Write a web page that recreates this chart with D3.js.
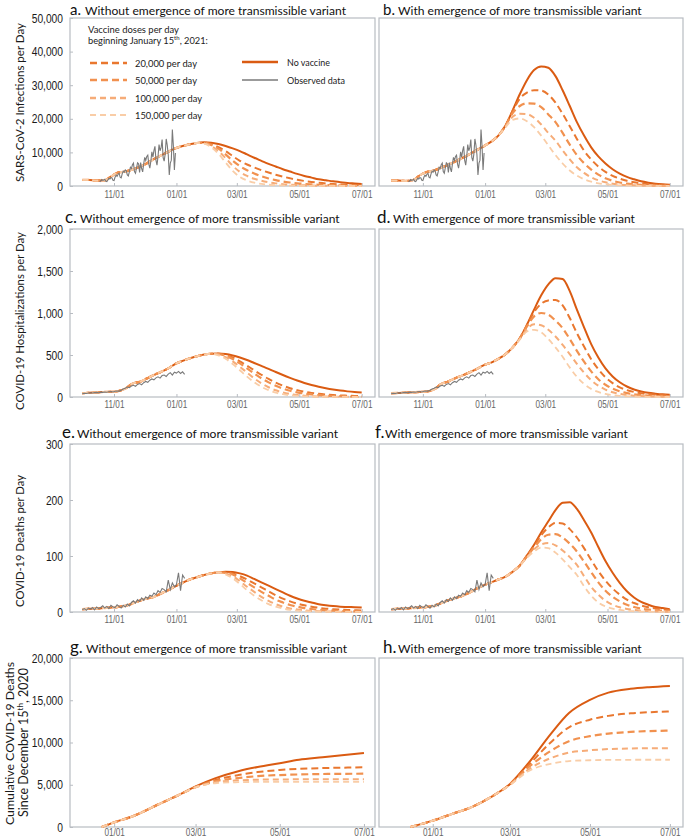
<!DOCTYPE html>
<html><head><meta charset="utf-8">
<script src="https://cdn.jsdelivr.net/npm/d3@7"></script>
<style>
body{margin:0;background:#fff}
svg{display:block}
text{font-family:Lato,"Open Sans",sans-serif}
.tick text{font-family:"Liberation Sans",Arial,sans-serif}
</style></head>
<body><svg id="chart" width="685" height="839"></svg>
<script>
// ---------------- DATA ----------------
const weekDates = ["2020-10-01","2020-10-08","2020-10-15","2020-10-22","2020-10-29","2020-11-05","2020-11-12","2020-11-19","2020-11-26","2020-12-03","2020-12-10","2020-12-17","2020-12-24","2020-12-31","2021-01-07","2021-01-14","2021-01-21","2021-01-28","2021-02-04","2021-02-11","2021-02-18","2021-02-25","2021-03-04","2021-03-11","2021-03-18","2021-03-25","2021-04-01","2021-04-08","2021-04-15","2021-04-22","2021-04-29","2021-05-06","2021-05-13","2021-05-20","2021-05-27","2021-06-03","2021-06-10","2021-06-17","2021-06-24","2021-07-01"];
const cumDatesG = ["2020-12-23","2021-01-01","2021-01-15","2021-02-01","2021-02-15","2021-03-01","2021-03-15","2021-04-01","2021-04-15","2021-05-01","2021-05-15","2021-06-01","2021-06-15","2021-07-01"];
const cumDatesH = ["2020-12-15","2021-01-01","2021-01-15","2021-02-01","2021-02-15","2021-03-01","2021-03-15","2021-04-01","2021-04-15","2021-05-01","2021-05-15","2021-06-01","2021-06-15","2021-07-01"];

const scenarios = ["No vaccine","20,000 per day","50,000 per day","100,000 per day","150,000 per day"];

// a. infections, without variant
const infA_none = [1800,1800,1600,1600,2800,4000,4300,4900,5700,6700,8000,9100,10200,11200,11900,12400,12800,13000,12900,12500,11900,11200,10400,9400,8400,7500,6600,5800,5000,4300,3600,3000,2500,2000,1700,1400,1150,900,750,600];
const infA_start = 17;
const infA_v20  = [12900,12500,11600,10400,8900,7500,6400,5500,4700,4000,3350,2800,2300,1850,1500,1200,950,750,600,480,390,320,260];
const infA_v50  = [12800,12200,11100,9400,7500,5900,4700,3700,2900,2250,1750,1350,1050,800,620,480,370,290,220,170,130,100,80];
const infA_v100 = [12700,11900,10400,8300,6000,4200,3000,2150,1550,1100,780,550,390,280,200,140,100,70,50,36,26,19,14];
const infA_v150 = [12600,11500,9600,7000,4500,2700,1650,1000,620,390,250,160,100,65,42,28,18,12,8,5,3,2,1];

// b. infections, with variant
const infB_none = [1600,1600,1500,1700,3200,4200,4600,5500,6300,7300,8400,9500,10700,11900,13200,15000,18000,22500,27300,31500,34500,35600,35200,32700,28500,23800,19000,15000,11500,8800,6700,5000,3700,2700,2000,1400,1000,700,500,350];
const infB_start = 16;
const infB_v20  = [18000,22300,26000,27800,28500,28400,27200,24800,21500,17800,14000,10500,7900,5800,4200,3000,2200,1550,1100,780,550,390,280,200];
const infB_v50  = [17900,21700,23800,24600,24500,23500,21300,19000,15800,12300,9200,6800,4900,3400,2300,1550,1050,700,470,320,220,150,100,70];
const infB_v100 = [17700,20600,21500,21400,20300,18300,15800,13500,10600,7900,5600,3900,2600,1700,1100,700,450,290,190,120,80,55,35,25];
const infB_v150 = [17500,19700,20100,19300,17500,15000,12100,9200,6700,4600,3100,2000,1300,800,500,300,190,120,80,50,32,20,13,8];

// c. hospitalizations, without variant
const hosC_none = [45,50,55,60,62,70,100,160,180,220,262,300,341,395,430,460,485,505,515,518,512,495,470,440,405,370,335,298,262,228,196,167,142,121,103,88,76,67,60,55];
const hosC_start = 19;
const hosC_v20  = [515,500,470,425,372,318,265,215,172,135,105,82,63,49,38,30,24,19,16,13,11];
const hosC_v50  = [512,490,452,400,340,280,223,174,133,100,75,55,41,30,22,16,12,9,7,5,4];
const hosC_v100 = [505,475,425,360,290,222,163,116,80,54,36,24,16,10,7,5,3,2,2,1,1];
const hosC_v150 = [495,455,392,318,243,176,122,81,52,33,21,13,8,5,3,2,1,1,1,0,0];

// d. hospitalizations, with variant
const hosD_none = [45,48,52,56,60,66,90,155,185,225,258,295,335,380,410,455,510,590,700,860,1040,1210,1340,1415,1405,1260,1040,830,630,470,340,245,175,125,90,66,50,40,32,27];
const hosD_start = 18;
const hosD_v20  = [700,850,1010,1110,1150,1155,1090,940,760,600,450,330,235,165,115,82,60,45,35,28,23,20];
const hosD_v50  = [698,840,960,1000,980,910,820,690,550,420,305,212,146,99,67,46,32,22,16,12,9,7];
const hosD_v100 = [690,810,865,855,800,720,620,510,395,290,200,135,88,57,37,24,16,11,8,6,4,3];
const hosD_v150 = [685,780,800,770,690,590,480,350,240,155,97,60,36,22,13,8,5,3,2,1,1,0];

// e. deaths, without variant
const detE_none = [5,6,6,7,8,9,11,15,20,24,27,33,39,46,52,58,62,66,69,71,72,71.5,69,65,59,53,47,41,35,29,24,20,17,14,12,10.5,9.5,9,8.5,8];
const detE_start = 20;
const detE_v20  = [71,69,64,58,51,44,37,30,24,19,15,12,9.5,7.5,6,5,4.2,3.6,3.1,2.7];
const detE_v50  = [70,67,60,52,44,36,29,22,17,12.5,9.5,7,5.3,4,3,2.3,1.8,1.4,1.1,0.9];
const detE_v100 = [69,64,55,45,36,27,20,14,9.5,6.5,4.4,3,2,1.4,1,0.7,0.5,0.4,0.3,0.2];
const detE_v150 = [67,60,50,39,29,21,14,9.5,6.2,4,2.6,1.7,1.1,0.7,0.5,0.3,0.2,0.1,0.1,0.1];

// f. deaths, with variant
const detF_none = [5,6,6,7,8,9,11,16,21,25,29,35,42,48,53,58,63,72,83,101,120,142,162,182,195,196,184,164,142,116,91,70,52,37,26,18,13,9,7,5];
const detF_start = 19;
const detF_v20  = [100,118,137,151,159,158,148,133,114,93,73,56,42,31,22,16,11.5,8.5,6.3,4.8,3.7];
const detF_v50  = [99,115,130,138,139,133,122,108,90,71,53,38,27,19,13,9,6,4.3,3,2.2,1.6];
const detF_v100 = [98,112,121,123,119,110,98,84,64,45,31,20,13,8.5,5.5,3.6,2.4,1.6,1.1,0.7,0.5];
const detF_v150 = [97,108,115,114,106,94,80,66,46,29,17,10,6,3.6,2.2,1.3,0.8,0.5,0.3,0.2,0.1];

// g. cumulative deaths, without variant
const cumG_none = [0,550,1300,2600,3650,4800,5750,6600,7100,7550,7950,8250,8500,8750];
const cumG_start = 5;
const cumG_v20  = [4750,5550,6150,6500,6750,6880,6970,7020,7060];
const cumG_v50  = [4720,5400,5800,6020,6150,6220,6270,6290,6310];
const cumG_v100 = [4700,5280,5520,5600,5630,5640,5650,5650,5650];
const cumG_v150 = [4680,5180,5300,5340,5350,5350,5350,5350,5350];

// h. cumulative deaths, with variant
const cumH_none = [0,750,1500,2450,3600,5100,7550,11000,13500,15050,15900,16350,16550,16700];
const cumH_start = 5;
const cumH_v20  = [5080,7300,10000,11800,12700,13150,13450,13580,13680];
const cumH_v50  = [5050,7050,9000,10150,10750,11050,11250,11350,11400];
const cumH_v100 = [5000,6800,8150,8800,9080,9220,9290,9320,9330];
const cumH_v150 = [4980,6600,7480,7800,7900,7940,7955,7960,7960];

// observed data
const obsInfStart = "2020-10-18"; // daily
const obsInf = [1200,1500,1900,1700,1800,2000,1400, 1300,1800,2300,2100,2500,2400,1700,
  1600,2600,3200,2900,3500,3800,2600, 2400,3600,4400,4100,4800,4500,3300,
  3000,4200,5600,5200,6300,6800,4300, 3800,5400,6900,6600,4000,7000,5200,
  4200,6600,8500,7600,8800,9200,6500, 5300,7400,10200,8600,10500,11800,7600,
  6200,8800,12300,10500,11400,13800,8400, 7400,9500,14000,12200,9300,3300,6800,
  7700,16800,12000,4800,9800];
const obsHosStart = "2020-10-01"; // every 2 days
const obsHos = [40,45,42,48,50,47,52,55,50,58,55,60,57,62,66,60,68,72,70,80,95,105,118,112,130,140,128,150,160,145,170,185,175,200,215,205,228,240,225,255,262,245,272,290,260,295,285,305,280,300,270];
const obsDetStart = "2020-10-01"; // every 2 days
const obsDet = [4,6,3,7,5,8,4,9,6,8,11,7,10,6,12,9,8,13,10,7,12,9,14,11,17,20,16,22,19,25,21,27,24,30,28,34,31,38,35,42,40,36,57,40,52,45,49,70,38,66,60];

// axis ticks & labels
const yTicks = [[0,10000,20000,30000,40000,50000],[0,500,1000,1500,2000],[0,100,200,300],[0,5000,10000,15000,20000]];
const xTicksMain = ["2020-11-01","2021-01-01","2021-03-01","2021-05-01","2021-07-01"];
const xTicksCum = ["2021-01-01","2021-03-01","2021-05-01","2021-07-01"];
const titleWithout = "Without emergence of more transmissible variant";
const titleWith = "With emergence of more transmissible variant";

// ---------------- STYLE / LAYOUT ----------------
const parse = d3.timeParse("%Y-%m-%d");
const fmt = d3.timeFormat("%m/%d");
const colors = ["#DA5B12","#E9772F","#F1914F","#F6AC78","#F9CDA7"];
const widths = [2,2,2.2,2,1.8];
const dashes = [null,"7,4","7,4","6,4","6,4"];
const obsColor = "#7a7a7a";
const boxColor = "#b8bcc2";
const narrow = 0.82;
const cols = [{x0:70,x1:375},{x0:379,x1:683}];
const rows = [{y0:18,y1:186},{y0:229,y1:397},{y0:444,y1:612},{y0:658,y1:827}];
const tickLabelY = [4.5,4,3.5,2.3];
const mainDomain = ["2020-09-19","2021-07-14"];
const cumDomainG = ["2020-11-30","2021-07-09"];
const cumDomainH = ["2020-11-21","2021-07-11"];

const full = (base, tail, start) => base.slice(0, start).concat(tail);

const panels = [
  {L:"a.", t:titleWithout, col:0,row:0, lx:70, rx:85, w:261, by:14.8, dates:weekDates, dom:mainDomain, xt:xTicksMain,
   s:[infA_none, full(infA_none,infA_v20,infA_start), full(infA_none,infA_v50,infA_start), full(infA_none,infA_v100,infA_start), full(infA_none,infA_v150,infA_start)],
   obs:{start:obsInfStart, step:1, v:obsInf}},
  {L:"b.", t:titleWith, col:1,row:0, lx:383, rx:398, w:244, by:14.8, dates:weekDates, dom:mainDomain, xt:xTicksMain,
   s:[infB_none, full(infB_none,infB_v20,infB_start), full(infB_none,infB_v50,infB_start), full(infB_none,infB_v100,infB_start), full(infB_none,infB_v150,infB_start)],
   obs:{start:obsInfStart, step:1, v:obsInf}},
  {L:"c.", t:titleWithout, col:0,row:1, lx:65, rx:80, w:260, by:223, dates:weekDates, dom:mainDomain, xt:xTicksMain,
   s:[hosC_none, full(hosC_none,hosC_v20,hosC_start), full(hosC_none,hosC_v50,hosC_start), full(hosC_none,hosC_v100,hosC_start), full(hosC_none,hosC_v150,hosC_start)],
   obs:{start:obsHosStart, step:2, v:obsHos}},
  {L:"d.", t:titleWith, col:1,row:1, lx:377, rx:393, w:242, by:223, dates:weekDates, dom:mainDomain, xt:xTicksMain,
   s:[hosD_none, full(hosD_none,hosD_v20,hosD_start), full(hosD_none,hosD_v50,hosD_start), full(hosD_none,hosD_v100,hosD_start), full(hosD_none,hosD_v150,hosD_start)],
   obs:{start:obsHosStart, step:2, v:obsHos}},
  {L:"e.", t:titleWithout, col:0,row:2, lx:62, rx:77, w:261, by:438, dates:weekDates, dom:mainDomain, xt:xTicksMain,
   s:[detE_none, full(detE_none,detE_v20,detE_start), full(detE_none,detE_v50,detE_start), full(detE_none,detE_v100,detE_start), full(detE_none,detE_v150,detE_start)],
   obs:{start:obsDetStart, step:2, v:obsDet}},
  {L:"f.", t:titleWith, col:1,row:2, lx:375, rx:385, w:243, by:438, dates:weekDates, dom:mainDomain, xt:xTicksMain,
   s:[detF_none, full(detF_none,detF_v20,detF_start), full(detF_none,detF_v50,detF_start), full(detF_none,detF_v100,detF_start), full(detF_none,detF_v150,detF_start)],
   obs:{start:obsDetStart, step:2, v:obsDet}},
  {L:"g.", t:titleWithout, col:0,row:3, lx:70, rx:86, w:261, by:653, dates:cumDatesG, dom:cumDomainG, xt:xTicksCum,
   s:[cumG_none, full(cumG_none,cumG_v20,cumG_start), full(cumG_none,cumG_v50,cumG_start), full(cumG_none,cumG_v100,cumG_start), full(cumG_none,cumG_v150,cumG_start)],
   obs:null},
  {L:"h.", t:titleWith, col:1,row:3, lx:383, rx:398, w:244, by:653, dates:cumDatesH, dom:cumDomainH, xt:xTicksCum,
   s:[cumH_none, full(cumH_none,cumH_v20,cumH_start), full(cumH_none,cumH_v50,cumH_start), full(cumH_none,cumH_v100,cumH_start), full(cumH_none,cumH_v150,cumH_start)],
   obs:null}
];

const svg = d3.select("#chart");

function txt(x, y, s, o = {}) {
  const t = svg.append("text").attr("x", x).attr("y", y).text(s)
    .attr("font-size", o.size || 12).attr("fill", o.fill || "#1a1a1a")
    .attr("text-anchor", o.anchor || "start");
  if (o.rotate) t.attr("transform", `rotate(${o.rotate},${x},${y})`);
  if (o.fit) fitSize(t, o.fit);
  return t;
}
function fitSize(t, target) {
  const w = t.node().getComputedTextLength();
  const fs = parseFloat(t.attr("font-size"));
  t.attr("font-size", (fs * target / w).toFixed(2));
}

panels.forEach(p => {
  const cg = cols[p.col], rg = rows[p.row];
  const x = d3.scaleTime().domain(p.dom.map(parse)).range([cg.x0, cg.x1]);
  const ymax = yTicks[p.row][yTicks[p.row].length - 1];
  const y = d3.scaleLinear().domain([0, ymax]).range([rg.y1, rg.y0]);

  svg.append("rect").attr("x", cg.x0).attr("y", rg.y0)
    .attr("width", cg.x1 - cg.x0).attr("height", rg.y1 - rg.y0)
    .attr("fill", "none").attr("stroke", boxColor).attr("stroke-width", 1.2);

  // x axis
  const gx = svg.append("g").attr("transform", `translate(0,${rg.y1})`)
    .call(d3.axisBottom(x).tickValues(p.xt.map(parse)).tickFormat(fmt).tickSizeInner(-3).tickSizeOuter(0).tickPadding(7));
  gx.select(".domain").remove();
  gx.selectAll(".tick line").attr("stroke", boxColor);
  gx.selectAll(".tick text").attr("font-size", 10).attr("fill", "#666")
    .attr("font-family", null).attr("y", tickLabelY[p.row])
    .attr("transform", `scale(${narrow},1)`);

  // y axis (left panels only get labels)
  if (p.col === 0) {
    const gy = svg.append("g").attr("transform", `translate(${cg.x0},0)`)
      .call(d3.axisLeft(y).tickValues(yTicks[p.row]).tickFormat(d3.format(",")).tickSizeInner(-3).tickSizeOuter(0).tickPadding(7));
    gy.select(".domain").remove();
    gy.selectAll(".tick line").attr("stroke", boxColor);
    gy.selectAll(".tick text").attr("font-size", 12.5).attr("fill", "#1a1a1a")
      .attr("font-family", null).attr("x", -7 / narrow)
      .attr("transform", `scale(${narrow},1)`);
  }

  // model lines
  const line = d3.line().x(d => x(d[0])).y(d => y(d[1])).curve(d3.curveMonotoneX);
  p.s.forEach((vals, i) => {
    const pts = vals.map((v, k) => [parse(p.dates[k]), v]);
    svg.append("path").datum(pts).attr("d", line)
      .attr("fill", "none").attr("stroke", colors[i]).attr("stroke-width", widths[i])
      .attr("stroke-dasharray", dashes[i]).attr("stroke-linejoin", "round");
  });
  // observed
  if (p.obs) {
    const s0 = parse(p.obs.start);
    const pts = p.obs.v.map((v, k) => [d3.timeDay.offset(s0, k * p.obs.step), v]);
    svg.append("path").datum(pts)
      .attr("d", d3.line().x(d => x(d[0])).y(d => y(d[1])))
      .attr("fill", "none").attr("stroke", obsColor).attr("stroke-width", 1.1);
  }

  // title
  txt(p.lx, p.by, p.L, {size: p.row === 0 ? 15 : 17, fill: "#111"});
  txt(p.rx, p.by, p.t, {size: 13, fill: "#111", fit: p.w});
});

// y-axis titles
txt(24, 102.5, "SARS-CoV-2 Infections per Day", {size: 14, anchor: "middle", rotate: -90, fit: 159});
txt(24, 321, "COVID-19 Hospitalizations per Day", {size: 14, anchor: "middle", rotate: -90, fit: 178});
txt(24, 541, "COVID-19 Deaths per Day", {size: 14, anchor: "middle", rotate: -90, fit: 132});
txt(13.5, 743.5, "Cumulative COVID-19 Deaths", {size: 13, anchor: "middle", rotate: -90, fit: 163});
{
  const t = svg.append("text").attr("x", 28).attr("y", 742.5).attr("font-size", 13)
    .attr("fill", "#1a1a1a").attr("text-anchor", "middle")
    .attr("transform", "rotate(-90,28,742.5)");
  t.append("tspan").text("Since December 15");
  t.append("tspan").text("th").attr("font-size", "0.65em").attr("dy", -5);
  t.append("tspan").text(", 2020").attr("dy", 5);
  fitSize(t, 149);
}

// legend (panel a)
txt(88, 33, "Vaccine doses per day", {size: 11.5, fit: 91});
{
  const t = svg.append("text").attr("x", 88).attr("y", 43.5).attr("font-size", 11.5).attr("fill", "#1a1a1a");
  t.append("tspan").text("beginning January 15");
  t.append("tspan").text("th").attr("font-size", "0.65em").attr("dy", -4);
  t.append("tspan").text(", 2021:").attr("dy", 4);
  fitSize(t, 120);
}
const legRowsY = [63, 80, 98, 115];
const legW = [62, 62, 67, 67];
[1, 2, 3, 4].forEach((si, k) => {
  svg.append("line").attr("x1", 90).attr("x2", 127).attr("y1", legRowsY[k]).attr("y2", legRowsY[k])
    .attr("stroke", colors[si]).attr("stroke-width", widths[si] + 0.3).attr("stroke-dasharray", dashes[si]);
  txt(135, legRowsY[k] + 4, scenarios[si], {size: 11.5, fit: legW[k]});
});
svg.append("line").attr("x1", 242).attr("x2", 278).attr("y1", 62).attr("y2", 62)
  .attr("stroke", colors[0]).attr("stroke-width", 2.4);
txt(287, 65.5, scenarios[0], {size: 11.5, fit: 43});
svg.append("line").attr("x1", 242).attr("x2", 278).attr("y1", 80).attr("y2", 80)
  .attr("stroke", obsColor).attr("stroke-width", 1.6);
txt(287, 84, "Observed data", {size: 11.5, fit: 58});
</script></body></html>
